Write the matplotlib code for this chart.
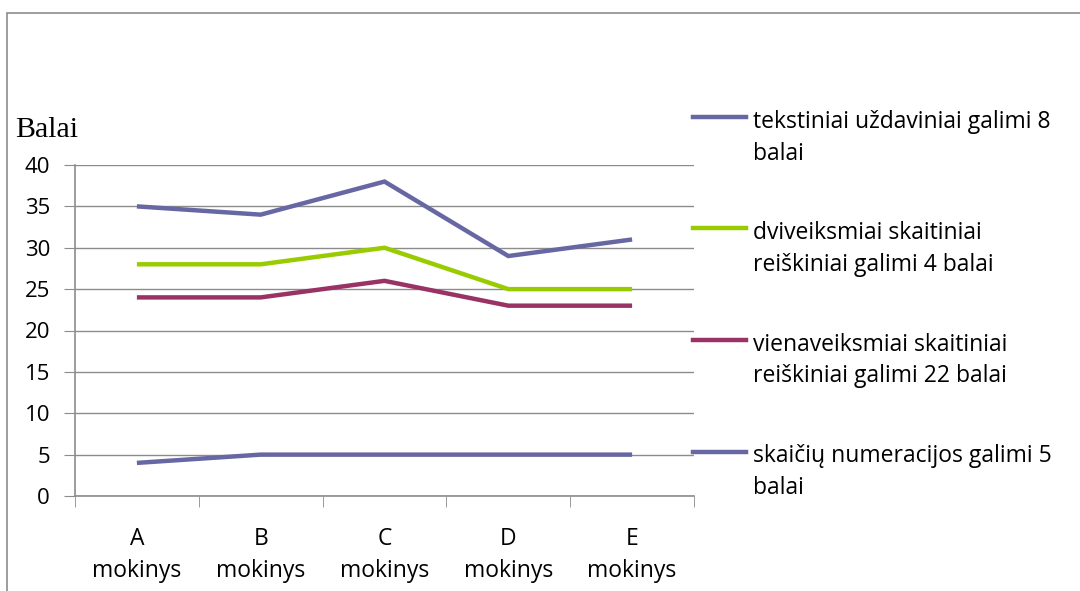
import matplotlib.pyplot as plt
from matplotlib.lines import Line2D
from matplotlib.patches import Rectangle

students = ['A\nmokinys', 'B\nmokinys', 'C\nmokinys', 'D\nmokinys', 'E\nmokinys']
tekstiniai = [35, 34, 38, 29, 31]
dviveiksmiai = [28, 28, 30, 25, 25]
vienaveiksmiai = [24, 24, 26, 23, 23]
numeracija = [4, 5, 5, 5, 5]

labels = ['tekstiniai uždaviniai galimi 8\nbalai',
          'dviveiksmiai skaitiniai\nreiškiniai galimi 4 balai',
          'vienaveiksmiai skaitiniai\nreiškiniai galimi 22 balai',
          'skaičių numeracijos galimi 5\nbalai']
colors = ['#6767a3', '#99cc00', '#993366', '#6767a3']
series = [tekstiniai, dviveiksmiai, vienaveiksmiai, numeracija]

W, H = 1080, 591
fig = plt.figure(figsize=(W / 100, H / 100), dpi=100)
ax = fig.add_axes([75 / W, 95 / H, 619 / W, 331 / H])

# outer chart frame, runs off the right and bottom edges
fig.add_artist(Rectangle((6.5 / W, -0.1), 1.2, (H - 12.5) / H + 0.1,
                         transform=fig.transFigure, fill=False,
                         edgecolor='#8c8c8c', linewidth=1.2))

x = list(range(len(students)))
for vals, c in zip(series, colors):
    ax.plot(x, vals, color=c, linewidth=3.2, solid_capstyle='butt',
            solid_joinstyle='miter')

ax.set_xlim(-0.5, len(students) - 0.5)
ax.set_ylim(0, 40)
ax.set_yticks(range(0, 41, 5))
ax.set_xticks(x)
ax.set_xticklabels(students, fontsize=16.5, family='Open Sans', linespacing=1.45)
ax.set_xticks([i - 0.5 for i in range(len(students) + 1)], minor=True)
ax.tick_params(axis='x', which='major', length=0, pad=22)
ax.tick_params(axis='x', which='minor', length=8, color='#8c8c8c')
ax.tick_params(axis='y', length=8, color='#8c8c8c', labelsize=16, pad=10)
for t in ax.get_yticklabels():
    t.set_family('Open Sans')

ax.grid(axis='y', color='#8c8c8c', linewidth=1)
ax.set_axisbelow(True)
for side in ['top', 'right']:
    ax.spines[side].set_visible(False)
for side in ['left', 'bottom']:
    ax.spines[side].set_color('#8c8c8c')
    ax.spines[side].set_linewidth(1.2)

fig.text(15 / W, 1 - 130 / H, 'Balai', family='Liberation Serif',
         fontsize=21.5, va='center', ha='left')

# legend drawn by hand so the key line sits beside the first text line
for i, (lab, c) in enumerate(zip(labels, colors)):
    yy = 1 - (117 + 111.5 * i) / H
    fig.add_artist(Line2D([693 / W, 746 / W], [yy, yy], color=c,
                          linewidth=3.2, transform=fig.transFigure))
    fig.text(753 / W, yy - 42.5 / H, lab, family='Open Sans', fontsize=16.5,
             va='baseline', ha='left', linespacing=1.42)

fig.savefig('out.png', dpi=100)
